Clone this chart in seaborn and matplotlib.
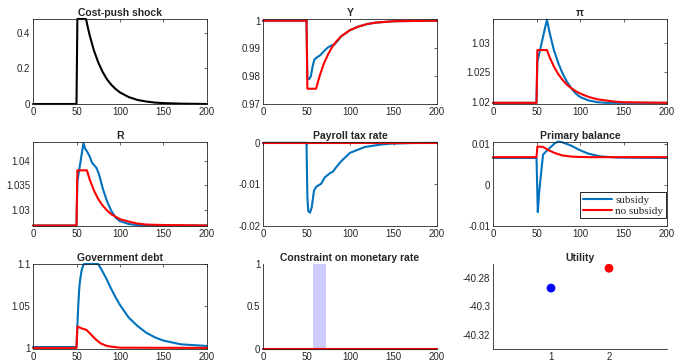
import numpy as np
import pandas as pd
import seaborn as sns
import matplotlib.pyplot as plt
from matplotlib.ticker import FuncFormatter

# colours (MATLAB defaults)
BLUE = "#0072BD"
RED = "#FF0000"

# ---- data ----
shock_t = [0, 50, 51, 61, 63, 65, 70, 75, 80, 85, 90, 95, 100, 110, 120, 130, 140, 150, 170, 200]
shock = [0, 0, 0.478, 0.478, 0.431, 0.389, 0.301, 0.234, 0.181, 0.139, 0.108, 0.084, 0.065,
         0.039, 0.023, 0.014, 0.008, 0.005, 0.002, 0.0]

y_sub_t = [0, 50, 51, 53, 55, 57, 59, 62, 66, 70, 74, 78, 82, 86, 90, 95, 100, 110, 120, 130, 150, 200]
y_sub = [1, 1, 0.9795, 0.9789, 0.9800, 0.9835, 0.9860, 0.9868, 0.9876, 0.9890, 0.9902, 0.9910,
         0.9914, 0.9928, 0.9944, 0.9955, 0.9966, 0.9979, 0.9988, 0.9993, 0.9998, 1.0]
y_nosub_t = [0, 50, 51, 61, 65, 70, 75, 80, 85, 90, 95, 100, 110, 120, 130, 150, 200]
y_nosub = [1, 1, 0.9755, 0.9755, 0.9800, 0.9846, 0.9880, 0.9908, 0.9928, 0.9944, 0.9955, 0.9966,
           0.9979, 0.9988, 0.9993, 0.9998, 1.0]

pi_sub_t = [0, 50, 51, 62, 65, 70, 75, 80, 85, 90, 95, 100, 110, 120, 130, 150, 200]
pi_sub = [1.0198, 1.0198, 1.0268, 1.0340, 1.0318, 1.0288, 1.0266, 1.0248, 1.0234, 1.0223,
          1.0214, 1.0208, 1.0202, 1.0199, 1.0198, 1.0198, 1.0198]
pi_nosub_t = [0, 50, 51, 62, 65, 70, 75, 80, 85, 90, 95, 100, 110, 120, 130, 140, 150, 200]
pi_nosub = [1.0198, 1.0198, 1.0288, 1.0288, 1.0276, 1.0260, 1.0247, 1.0237, 1.0229, 1.0223,
            1.0218, 1.0214, 1.0208, 1.0204, 1.0202, 1.0200, 1.0199, 1.0198]

r_sub_t = [0, 50, 51, 58, 60, 62, 65, 68, 70, 73, 76, 80, 85, 90, 95, 100, 110, 120, 130, 150, 200]
r_sub = [1.0268, 1.0268, 1.0358, 1.0437, 1.0425, 1.0420, 1.0410, 1.0396, 1.0392, 1.0386, 1.0372,
         1.0345, 1.0318, 1.0298, 1.0284, 1.0277, 1.0271, 1.0269, 1.0268, 1.0268, 1.0268]
r_nosub_t = [0, 50, 51, 62, 65, 70, 75, 80, 85, 90, 95, 100, 110, 120, 130, 150, 200]
r_nosub = [1.0268, 1.0268, 1.0381, 1.0381, 1.0363, 1.0340, 1.0322, 1.0309, 1.0299, 1.0291,
           1.0286, 1.0281, 1.0276, 1.0272, 1.0270, 1.0269, 1.0268]

tax_sub_t = [0, 50, 51, 52, 54, 56, 58.6, 61, 67, 71, 77, 80.5, 84, 90, 100, 117, 136, 147, 170, 200]
tax_sub = [0, 0, -0.0130, -0.0164, -0.0168, -0.0155, -0.0115, -0.0106, -0.0098, -0.0083, -0.0073,
           -0.0069, -0.0059, -0.0044, -0.0024, -0.0010, -0.0004, -0.0002, -0.00005, 0]
tax_nosub_t = [0, 200]
tax_nosub = [0, 0]

pb_sub_t = [0, 50, 51.5, 53, 57.5, 61, 65, 71, 75, 80, 90, 100, 109, 123, 142, 200]
pb_sub = [0.0066, 0.0066, -0.0066, -0.0019, 0.0074, 0.0082, 0.0090, 0.0102, 0.0106, 0.0104,
          0.0096, 0.0085, 0.0077, 0.0070, 0.0067, 0.0066]
pb_nosub_t = [0, 50, 51, 57.5, 63, 71, 80, 92, 110, 200]
pb_nosub = [0.0068, 0.0068, 0.0094, 0.0093, 0.0086, 0.0078, 0.0072, 0.0069, 0.0068, 0.0068]

debt_sub_t = [0, 50, 51, 52, 53, 54, 56, 58, 59, 75, 80, 85, 90, 95, 100, 110, 120, 130, 140, 150, 170, 200]
debt_sub = [1.0008, 1.0008, 1.025, 1.050, 1.068, 1.080, 1.093, 1.099, 1.1, 1.1, 1.091, 1.081, 1.070,
            1.060, 1.051, 1.036, 1.026, 1.018, 1.0124, 1.0084, 1.004, 1.002]
debt_nosub_t = [0, 50, 51, 56.6, 61.5, 66, 72, 77.6, 85, 93, 100, 200]
debt_nosub = [0.9997, 0.9997, 1.0252, 1.0228, 1.0212, 1.0164, 1.0100, 1.0052, 1.0020, 1.0008,
              1.0000, 0.9997]

bind_start, bind_end = 57, 72          # periods where the rate constraint binds (subsidy)
con_t = [0, 200]
con_nosub = [0, 0]

util_x = [1, 2]
util = [-40.287, -40.273]
util_colors = ["#0000FF", RED]

# ---- style ----
sns.set_style("white")
plt.rcParams["font.family"] = ["Liberation Sans", "DejaVu Sans"]
plt.rcParams["axes.edgecolor"] = "#262626"
plt.rcParams["axes.linewidth"] = 0.6
plt.rcParams["xtick.color"] = "#262626"
plt.rcParams["ytick.color"] = "#262626"
plt.rcParams["xtick.direction"] = "in"
plt.rcParams["ytick.direction"] = "in"
plt.rcParams["xtick.major.size"] = 2.5
plt.rcParams["ytick.major.size"] = 2.5
plt.rcParams["xtick.major.width"] = 0.5
plt.rcParams["ytick.major.width"] = 0.5

fig = plt.figure(figsize=(6.75, 3.62), dpi=100)
W, H = 675, 362
lefts = [33, 263, 493]
tops = [19, 142, 264]
bottoms = [104, 226, 349]
axw = 174
axes = []
for r in range(3):
    for c in range(3):
        ax = fig.add_axes([lefts[c] / W, 1 - bottoms[r] / H, axw / W, (bottoms[r] - tops[r]) / H])
        axes.append(ax)

fmt = FuncFormatter(lambda v, p: "%g" % round(v, 6))


def style(ax, title, yticks, ylim, boxed=True):
    ax.set_title(title, fontsize=7.5, fontweight="bold", pad=2.5)
    ax.set_xlim(0, 200)
    ax.set_xticks([0, 50, 100, 150, 200])
    ax.set_yticks(yticks)
    ax.set_ylim(*ylim)
    ax.yaxis.set_major_formatter(fmt)
    ax.tick_params(labelsize=7, pad=2, top=boxed, right=boxed)
    if not boxed:
        ax.spines["top"].set_visible(False)
        ax.spines["right"].set_visible(False)
    ax.set_xlabel("")
    ax.set_ylabel("")


def pair(ax, ts, vs, tn, vn, label=False):
    sns.lineplot(x=ts, y=vs, ax=ax, color=BLUE, lw=1.5, label="subsidy" if label else None, clip_on=False)
    sns.lineplot(x=tn, y=vn, ax=ax, color=RED, lw=1.5, label="no subsidy" if label else None, clip_on=False)


ax = axes[0]
sns.lineplot(x=shock_t, y=shock, ax=ax, color="black", lw=1.5, clip_on=False)
style(ax, "Cost-push shock", [0, 0.2, 0.4], (0, 0.478))

ax = axes[1]
pair(ax, y_sub_t, y_sub, y_nosub_t, y_nosub)
style(ax, "Y", [0.97, 0.98, 0.99, 1], (0.97, 1.0006))

ax = axes[2]
pair(ax, pi_sub_t, pi_sub, pi_nosub_t, pi_nosub)
style(ax, "π", [1.02, 1.025, 1.03], (1.0196, 1.0341))

ax = axes[3]
pair(ax, r_sub_t, r_sub, r_nosub_t, r_nosub)
style(ax, "R", [1.03, 1.035, 1.04], (1.0267, 1.0439))

ax = axes[4]
pair(ax, tax_sub_t, tax_sub, tax_nosub_t, tax_nosub)
style(ax, "Payroll tax rate", [-0.02, -0.01, 0], (-0.02, 0.0002))

ax = axes[5]
pair(ax, pb_sub_t, pb_sub, pb_nosub_t, pb_nosub, label=True)
style(ax, "Primary balance", [-0.01, 0, 0.01], (-0.01, 0.0105))
leg = ax.legend(loc="lower right", bbox_to_anchor=(0.995, 0.09), prop={"family": "Liberation Serif", "size": 8},
                frameon=True, fancybox=False, edgecolor="black", framealpha=1,
                handlelength=2.6, borderpad=0.25, labelspacing=0.1, handletextpad=0.3, borderaxespad=0)
leg.get_frame().set_linewidth(0.6)

ax = axes[6]
pair(ax, debt_sub_t, debt_sub, debt_nosub_t, debt_nosub)
style(ax, "Government debt", [1, 1.05, 1.1], (0.9984, 1.1))

ax = axes[7]
ax.axvspan(bind_start, bind_end, color="#0000FF", alpha=0.2, lw=0)
sns.lineplot(x=con_t, y=con_nosub, ax=ax, color=BLUE, lw=1.5, clip_on=False)
sns.lineplot(x=con_t, y=con_nosub, ax=ax, color=RED, lw=1.5, clip_on=False)
style(ax, "Constraint on monetary rate", [0, 0.5, 1], (0, 1), boxed=False)

ax = axes[8]
sns.scatterplot(x=util_x, y=util, hue=["s", "n"], palette=util_colors, ax=ax, s=40,
                edgecolor="none", legend=False, zorder=3)
ax.set_title("Utility", fontsize=7.5, fontweight="bold", pad=2.5)
ax.set_xlim(0, 3)
ax.set_xticks([1, 2])
ax.set_ylim(-40.33, -40.27)
ax.set_yticks([-40.32, -40.3, -40.28])
ax.yaxis.set_major_formatter(fmt)
ax.tick_params(labelsize=7, pad=2)
ax.spines["top"].set_visible(False)
ax.spines["right"].set_visible(False)

fig.savefig("out.png", dpi=100)
